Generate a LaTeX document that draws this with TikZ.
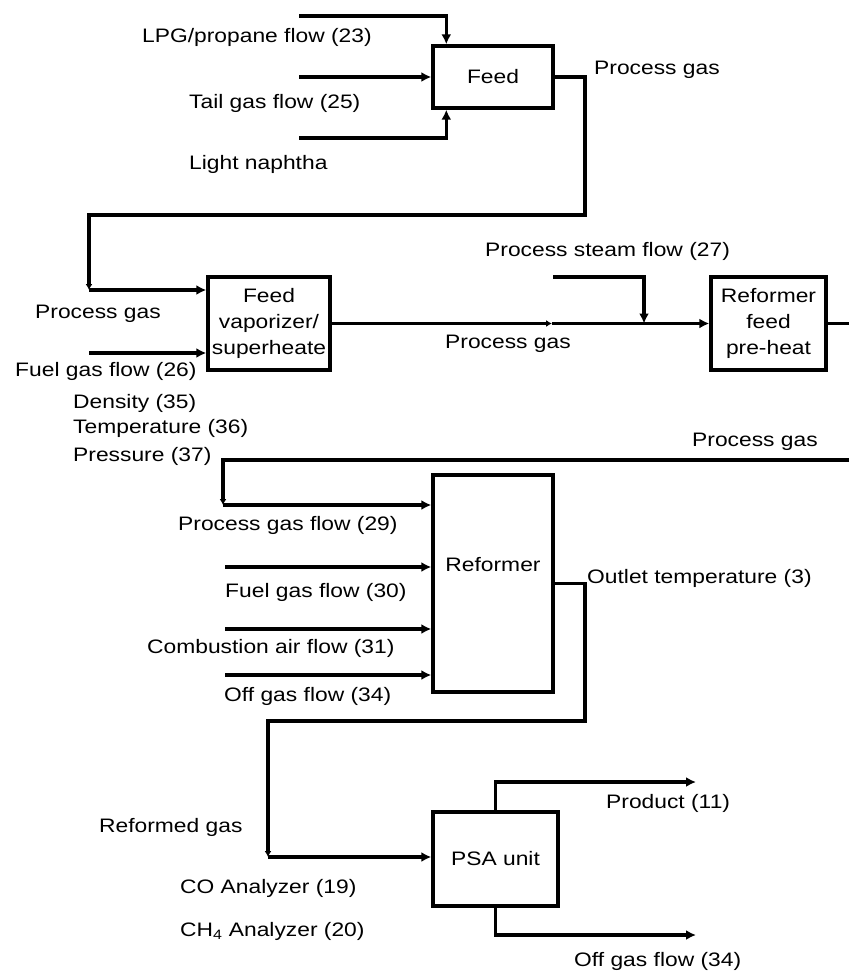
\documentclass[tikz,border=0pt]{standalone}
\usepackage{fontspec}
\setmainfont{Liberation Sans}[FakeStretch=1.17]
\usetikzlibrary{arrows.meta,calc}
\begin{document}
\begin{tikzpicture}[x=1pt,y=-1pt,
  box/.style={draw,line width=3.4pt,inner sep=0pt,align=center,font=\fontsize{19.5}{26}\selectfont},
  lab/.style={inner sep=0pt,anchor=base west,font=\fontsize{19.5}{26}\selectfont},
  flow/.style={line width=3.3pt,-{Latex[length=10pt,width=10pt]}},
  tick/.style={line width=3.3pt,-{Latex[length=6pt,width=7pt]}},
  plain/.style={line width=3.3pt}]
\useasboundingbox (0,0) rectangle (849,971);
% boxes
\node[box,minimum width=120pt,minimum height=62pt] (feed) at (493,77) {Feed};
\node[box,minimum width=122pt,minimum height=93pt] (vap) at (269,323.5) {Feed\\vaporizer/\\superheate};
\node[box,minimum width=115pt,minimum height=93pt] (pre) at (768.5,323.5) {Reformer\\feed\\pre-heat};
\node[box,minimum width=120pt,minimum height=217pt] (ref) at (493,583.5) {Reformer\\[12pt]};
\node[box,minimum width=125pt,minimum height=94pt] (psa) at (495.5,859) {PSA unit};
% coordinates
\coordinate (lpgS) at (299,16);
\coordinate (tailS) at (299,77);
\coordinate (naphS) at (299,138);
\coordinate (fo1) at (585,215);
\coordinate (c1) at (89,290);
\coordinate (fuel26) at (89,353);
\coordinate (mid) at (552,323.5);
\coordinate (steamS) at (553,277);
\coordinate (join) at (644,323.5);
\coordinate (edge1) at (849,323.5);
\coordinate (edge2) at (849,460);
\coordinate (c2) at (223,505);
\coordinate (f30) at (225,567);
\coordinate (f31) at (225,629);
\coordinate (f34) at (225,675);
\coordinate (ro1) at (585,721);
\coordinate (c3) at (268,857);
\coordinate (prod) at (696,782);
\coordinate (offg) at (696,935);
% connectors
\draw[flow] (lpgS) -| ($(feed.north west)+(15,0)$);
\draw[flow] (tailS) -- (feed.west);
\draw[flow] (naphS) -| ($(feed.south west)+(15,0)$);
\draw[tick] (feed.east) -| (fo1) -| (c1);
\draw[flow] (c1) -- (c1 -| vap.west);
\draw[flow] (fuel26) -- (fuel26 -| vap.west);
\draw[tick] (vap.east) -- (mid);
\draw[flow] (mid) -- (pre.west);
\draw[flow] (steamS) -| (join);
\draw[plain] (pre.east) -- (edge1);
\draw[tick] (edge2) -| (c2);
\draw[flow] (c2) -- (c2 -| ref.west);
\draw[flow] (f30) -- (f30 -| ref.west);
\draw[flow] (f31) -- (f31 -| ref.west);
\draw[flow] (f34) -- (f34 -| ref.west);
\draw[tick] (ref.east) -| (ro1) -| (c3);
\draw[flow] (c3) -- (c3 -| psa.west);
\draw[flow] (psa.north) |- (prod);
\draw[flow] (psa.south) |- (offg);
% labels
\node[lab] (l1) at (142,43) {LPG/propane flow (23)};
\node[lab] (l2) at (189,109) {Tail gas flow (25)};
\node[lab] (l3) at (189,169) {Light naphtha};
\node[lab] (l4) at (594,75) {Process gas};
\node[lab] (l5) at (35,318) {Process gas};
\node[lab] (l6) at (15,376) {Fuel gas flow (26)};
\node[lab] (l7) at (73,408) {Density (35)};
\node[lab] (l8) at (73,433) {Temperature (36)};
\node[lab] (l9) at (73,461) {Pressure (37)};
\node[lab] (l10) at (485,256) {Process steam flow (27)};
\node[lab] (l11) at (445,348) {Process gas};
\node[lab] (l12) at (692,446) {Process gas};
\node[lab] (l13) at (178,530) {Process gas flow (29)};
\node[lab] (l14) at (225,597) {Fuel gas flow (30)};
\node[lab] (l15) at (147,653) {Combustion air flow (31)};
\node[lab] (l16) at (224,701) {Off gas flow (34)};
\node[lab] (l17) at (587,583) {Outlet temperature (3)};
\node[lab] (l18) at (99,832) {Reformed gas};
\node[lab] (l19) at (180,893) {CO Analyzer (19)};
\node[lab] (l20) at (180,936) {CH\textsubscript{4} Analyzer (20)};
\node[lab] (l21) at (606,808) {Product (11)};
\node[lab] (l22) at (574,966) {Off gas flow (34)};
\end{tikzpicture}
\end{document}
